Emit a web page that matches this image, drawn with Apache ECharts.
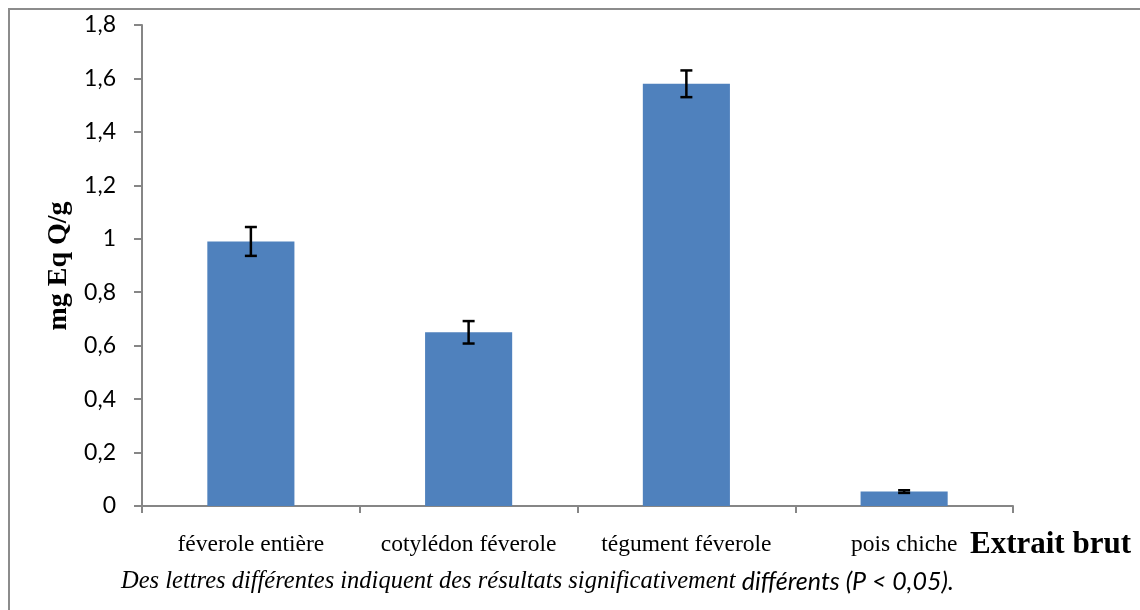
<!DOCTYPE html>
<html>
<head>
<meta charset="utf-8">
<script src="https://cdn.jsdelivr.net/npm/echarts@6/dist/echarts.min.js"></script>
<style>
  html, body { margin: 0; padding: 0; background: #fff; }
  #chart { width: 1140px; height: 610px; }
</style>
</head>
<body>
<div id="chart"></div>
<script>
// Flavonoid content of the crude extracts (mg Eq Q/g), mean ± error
const categories = ['féverole entière', 'cotylédon féverole', 'tégument féverole', 'pois chiche'];
const values = [0.99, 0.65, 1.58, 0.054];
const errors = [0.054, 0.042, 0.05, 0.005];
const yTicks = { min: 0, max: 1.8, interval: 0.2 };

const axisGray = '#868686';
const barBlue = '#4f81bd';

const chart = echarts.init(document.getElementById('chart'), null, { renderer: 'canvas' });

const errorData = values.map((v, i) => [i, v - errors[i], v + errors[i]]);

chart.setOption({
  animation: false,
  backgroundColor: '#fff',
  grid: { left: 142, right: 127, top: 25, bottom: 104, containLabel: false },
  xAxis: {
    type: 'category',
    data: categories,
    boundaryGap: true,
    axisLine: { lineStyle: { color: axisGray, width: 2 } },
    axisTick: { show: true, interval: 0, length: 7, lineStyle: { color: axisGray, width: 2 } },
    axisLabel: {
      interval: 0,
      hideOverlap: false,
      margin: 27,
      color: '#000',
      fontFamily: 'Liberation Serif',
      fontSize: 23.5
    }
  },
  yAxis: {
    type: 'value',
    min: yTicks.min,
    max: yTicks.max,
    interval: yTicks.interval,
    splitLine: { show: false },
    axisLine: { show: true, lineStyle: { color: axisGray, width: 2 } },
    axisTick: { show: true, length: 8, lineStyle: { color: axisGray, width: 2 } },
    axisLabel: {
      margin: 26,
      color: '#000',
      fontFamily: 'Lato',
      fontSize: 23,
      formatter: v => String(+v.toFixed(1)).replace('.', ',')
    }
  },
  title: [
    {
      text: 'Extrait brut',
      left: 965,
      top: 524,
      textStyle: { fontFamily: 'Liberation Serif', fontWeight: 'bold', fontSize: 31, color: '#000' }
    },
    {
      text: '{a|Des lettres différentes indiquent des résultats significativement }{b|différents (P < 0,05).}',
      left: 116,
      top: 564,
      textStyle: {
        fontWeight: 'normal',
        rich: {
          a: { fontFamily: 'Liberation Serif', fontStyle: 'italic', fontWeight: 'normal', fontSize: 24.5, color: '#000' },
          b: { fontFamily: 'Lato', fontStyle: 'italic', fontWeight: 'normal', fontSize: 25, color: '#000' }
        }
      }
    }
  ],
  graphic: [
    {
      type: 'rect',
      shape: { x: 9, y: 9, width: 1140, height: 620 },
      style: { fill: 'none', stroke: '#8c8c8c', lineWidth: 2 },
      silent: true,
      z: 100
    },
    {
      type: 'text',
      x: 59,
      y: 266,
      rotation: Math.PI / 2,
      style: {
        text: 'mg Eq Q/g',
        fontFamily: 'Liberation Serif',
        fontWeight: 'bold',
        fontSize: 28,
        fill: '#000',
        align: 'center',
        verticalAlign: 'middle'
      }
    }
  ],
  series: [
    {
      type: 'bar',
      data: values,
      barWidth: '40%',
      itemStyle: { color: barBlue },
      z: 2
    },
    {
      type: 'custom',
      data: errorData,
      z: 5,
      renderItem: function (params, api) {
        const x = api.value(0);
        const lo = api.coord([x, api.value(1)]);
        const hi = api.coord([x, api.value(2)]);
        const half = 6;
        const style = { stroke: '#000', lineWidth: 2.5 };
        return {
          type: 'group',
          children: [
            { type: 'line', shape: { x1: hi[0], y1: hi[1], x2: lo[0], y2: lo[1] }, style: style },
            { type: 'line', shape: { x1: hi[0] - half, y1: hi[1], x2: hi[0] + half, y2: hi[1] }, style: style },
            { type: 'line', shape: { x1: lo[0] - half, y1: lo[1], x2: lo[0] + half, y2: lo[1] }, style: style }
          ]
        };
      }
    }
  ]
});
</script>
</body>
</html>
